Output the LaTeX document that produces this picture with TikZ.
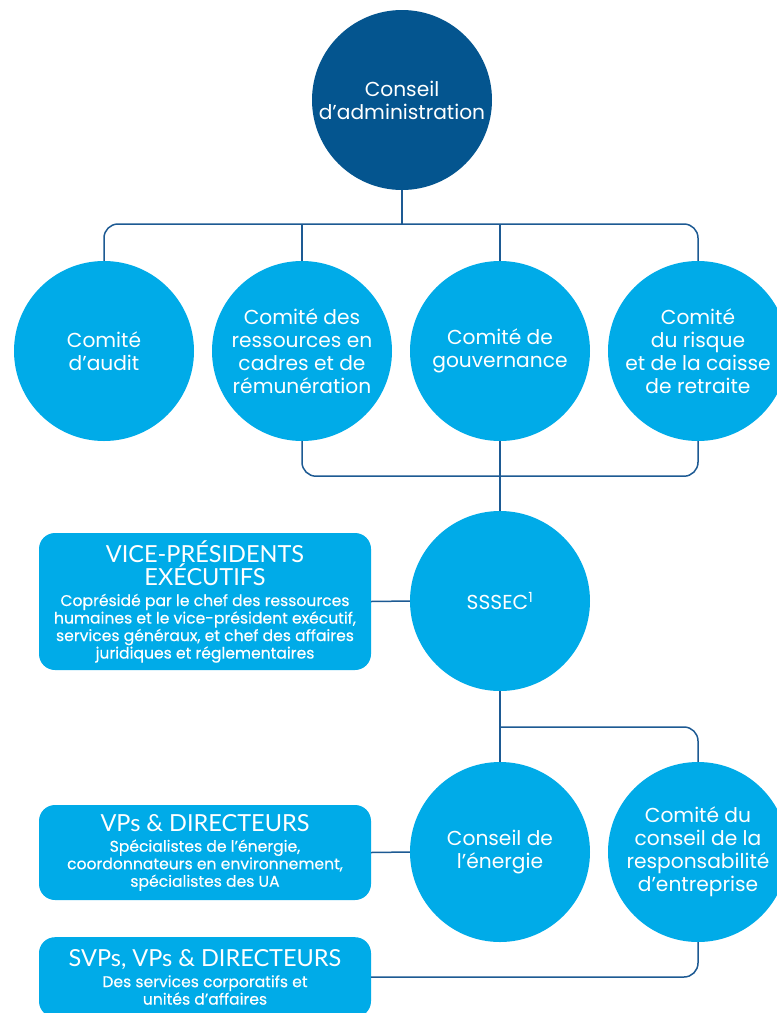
\documentclass[tikz,border=0pt]{standalone}
\usepackage{fontspec}
\setmainfont{Poppins}
\newfontfamily\headf{Lato}
\newfontfamily\bodyf{Poppins}[FakeBold=0.4]
\definecolor{darkblue}{HTML}{04558F}
\definecolor{lightblue}{HTML}{00ABE8}
\definecolor{linecol}{HTML}{1D5A93}
\newcommand{\nolsl}{\lineskiplimit -50pt\relax}
\newcommand{\hdfont}{\headf\fontsize{23.5}{17.5}\selectfont}
\newcommand{\bdfont}{\bodyf\fontsize{15.6}{17.5}\selectfont}
\newcommand{\circfont}{\fontsize{20.2}{23}\selectfont\nolsl}
\newcommand{\boxfont}{\fontsize{15.6}{17.5}\selectfont\nolsl}
\begin{document}
\begin{tikzpicture}[x=1pt,y=-1pt,
  circ/.style={circle,minimum size=180pt,inner sep=0pt,fill=lightblue,text=white,align=center,
    font=\circfont},
  topcirc/.style={circ,fill=darkblue},
  infobox/.style={rectangle,rounded corners=16pt,fill=lightblue,text=white,align=center,
    minimum width=332pt,inner sep=0pt,font=\boxfont},
  conn/.style={draw=linecol,line width=1.5pt},
]
\useasboundingbox (0,0) rectangle (777,1013);
\fill[white] (0,0) rectangle (777,1013);

% circles
\node[topcirc] (ca) at (402,100) {Conseil\\d’administration};
\node[circ] (audit) at (104,351) {Comité\\d’audit};
\node[circ] (rem) at (302,351) {Comité des\\ressources en\\cadres et de\\rémunération};
\node[circ] (gov) at (500,351) {Comité de\\gouvernance};
\node[circ] (risk) at (698,351) {Comité\\du risque\\et de la caisse\\de retraite};
\node[circ] (sssec) at (500,601) {SSSEC\textsuperscript{\fontsize{14}{14}\selectfont 1}};
\node[circ] (energie) at (500,852) {Conseil de\\l’énergie};
\node[circ] (csr) at (698,852) {Comité du\\conseil de la\\responsabilité\\d’entreprise};

% boxes
\node[infobox,minimum height=137pt] (vpe) at (205,601.5)
  {\hdfont VICE-PRÉSIDENTS\\[5.5pt]\hdfont EXÉCUTIFS\\[3.5pt]\bdfont Coprésidé par le chef des ressources\\\bdfont humaines et le vice-président exécutif,\\\bdfont services généraux, et chef des affaires\\\bdfont juridiques et réglementaires};
\node[infobox,minimum height=95pt] (vpd) at (205,852.5)
  {\hdfont VPs \& DIRECTEURS\\[3pt]\bdfont Spécialistes de l’énergie,\\\bdfont coordonnateurs en environnement,\\\bdfont spécialistes des UA};
\node[infobox,minimum height=80pt,anchor=north] (svp) at (205,937)
  {\hdfont SVPs, VPs \& DIRECTEURS\\[3pt]\bdfont Des services corporatifs et\\\bdfont unités d’affaires};

% connectors
\coordinate (bus) at (402,224);
\coordinate (bus2) at (500,727);
\draw[conn] (ca.south) -- (bus);
\draw[conn,rounded corners=14pt] (audit.north) |- (bus) -| (risk.north);
\draw[conn] (rem.north) -- (rem.north |- bus);
\draw[conn] (gov.north) -- (gov.north |- bus);
\draw[conn,rounded corners=14pt] (rem.south) -- ++(0,35) -| (risk.south);
\draw[conn] (gov.south) -- (sssec.north);
\draw[conn] (vpe.east) -- (sssec.west);
\draw[conn] (sssec.south) -- (energie.north);
\draw[conn,rounded corners=14pt] (bus2) -| (csr.north);
\draw[conn] (vpd.east) -- (energie.west);
\draw[conn,rounded corners=14pt] (svp.east |- 0,977) -| (csr.south);
\end{tikzpicture}
\end{document}
